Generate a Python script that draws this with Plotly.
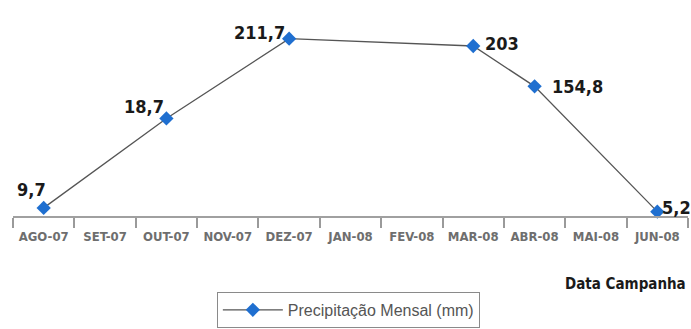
import plotly.graph_objects as go

# ---- data ----
months = ["AGO-07", "SET-07", "OUT-07", "NOV-07", "DEZ-07", "JAN-08",
          "FEV-08", "MAR-08", "ABR-08", "MAI-08", "JUN-08"]
# plotted heights (mm); None = no data
precip = [9.7, None, 116.5, None, 211.7, None, None, 203.0, 154.8, None, 5.2]
# data labels as printed on the chart
point_labels = ["9,7", None, "18,7", None, "211,7", None, None, "203", "154,8", None, "5,2"]
series_name = "Precipitação Mensal (mm)"
x_title = "Data Campanha"

# ---- styling ----
LABEL_FONT = "DejaVu Sans Condensed, Roboto, sans-serif"
# pixel offsets of each data label centre from its marker (dx right, dy up)
label_offsets = {
    "AGO-07": (-12, 18),
    "OUT-07": (-22, 12),
    "DEZ-07": (-30, 6),
    "MAR-08": (29, 2),
    "ABR-08": (43, 0),
    "JUN-08": (19, 4),
}

fig = go.Figure()
fig.add_trace(go.Scatter(
    x=months, y=precip, name=series_name,
    mode="lines+markers", connectgaps=True, cliponaxis=False,
    line=dict(color="#555555", width=1.3),
    marker=dict(symbol="diamond", size=11, color="#1f6fd0"),
))

annotations = []
for m, v, lab in zip(months, precip, point_labels):
    if v is None or lab is None:
        continue
    dx, dy = label_offsets[m]
    annotations.append(dict(
        x=m, y=v, xref="x", yref="y", text=lab, showarrow=False,
        xanchor="center", yanchor="middle", xshift=dx, yshift=dy,
        font=dict(family=LABEL_FONT, size=18, color="#1a1a1a", weight="bold"),
    ))
annotations.append(dict(
    x=1, y=-0.3366, xref="paper", yref="paper", text=x_title, showarrow=False,
    xanchor="right", yanchor="middle",
    font=dict(family=LABEL_FONT, size=15, color="#1a1a1a", weight="bold"),
))

fig.update_layout(
    width=691, height=329, autosize=False,
    margin=dict(l=13, r=3, t=15, b=112),
    paper_bgcolor="white", plot_bgcolor="white",
    showlegend=True,
    legend=dict(
        x=0.302, y=-0.371, xanchor="left", yanchor="top",
        orientation="h", bordercolor="#8a8a8a", borderwidth=1,
        itemwidth=60,
        font=dict(family="Liberation Sans", size=16, color="#555555"),
    ),
    annotations=annotations,
    xaxis=dict(
        type="category", categoryorder="array", categoryarray=months,
        range=[-0.5, len(months) - 0.5],
        tickson="boundaries", ticks="outside", ticklen=10,
        tickcolor="#9a9a9a", tickwidth=1.5, tickangle=0,
        ticklabelstandoff=7,
        showline=True, linecolor="#a0a0a0", linewidth=2,
        showgrid=False, zeroline=False,
        tickfont=dict(family=LABEL_FONT, size=13, color="#6e6e6e", weight="bold"),
    ),
    yaxis=dict(visible=False, range=[0, 240], showgrid=False, zeroline=False),
)

fig.write_html("out.html")
